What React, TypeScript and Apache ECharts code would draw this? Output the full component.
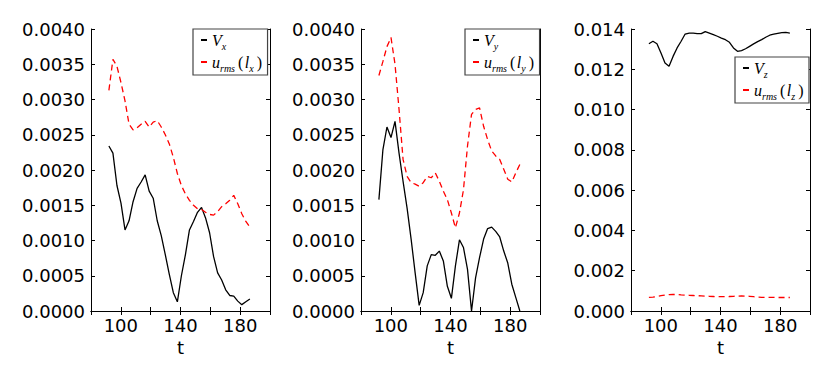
import React, { useEffect, useRef } from "react";
import * as echarts from "echarts";

const t = [92.0, 94.7, 97.4, 100.1, 102.8, 105.5, 108.2, 110.9, 113.6, 116.3, 119.0, 121.7, 124.4, 127.1, 129.8, 132.5, 135.2, 137.9, 140.6, 143.3, 146.0, 148.7, 151.4, 154.1, 156.8, 159.5, 162.2, 164.9, 167.6, 170.3, 173.0, 175.7, 178.4, 181.1, 183.8, 186.5];

const vx = [0.00234, 0.00224, 0.00178, 0.00153, 0.00115, 0.00128, 0.00155, 0.00174, 0.00183, 0.00193, 0.0017, 0.0016, 0.00128, 0.00107, 0.0008, 0.00052, 0.00026, 0.00013, 0.0005, 0.0008, 0.00115, 0.00127, 0.0014, 0.00147, 0.00132, 0.00111, 0.00077, 0.00054, 0.00044, 0.0003, 0.00022, 0.00021, 0.00014, 0.00009, 0.00013, 0.00017];
const urmsX = [0.00313, 0.00357, 0.00347, 0.00324, 0.00298, 0.00265, 0.00257, 0.0026, 0.00265, 0.00269, 0.00261, 0.00268, 0.0027, 0.00261, 0.0025, 0.00237, 0.00218, 0.00195, 0.00178, 0.00166, 0.00157, 0.0015, 0.00145, 0.00144, 0.0014, 0.00137, 0.00136, 0.00141, 0.00148, 0.00152, 0.00157, 0.00164, 0.00152, 0.00138, 0.00127, 0.00119];

const vy = [0.00158, 0.00229, 0.00261, 0.00246, 0.00269, 0.00224, 0.00184, 0.00146, 0.00102, 0.00054, 0.00008, 0.00026, 0.00064, 0.0008, 0.00079, 0.00085, 0.00071, 0.00035, 0.00018, 0.00064, 0.00101, 0.0009, 0.00059, 0.0, 0.00047, 0.00076, 0.00102, 0.00117, 0.00119, 0.00113, 0.00105, 0.00085, 0.00068, 0.00038, 0.00019, 0.0];
const urmsY = [0.00334, 0.00354, 0.00375, 0.00388, 0.0035, 0.00286, 0.00215, 0.00191, 0.00182, 0.0018, 0.00177, 0.00182, 0.00191, 0.00189, 0.00196, 0.00184, 0.0017, 0.00158, 0.00139, 0.00118, 0.00139, 0.00172, 0.00234, 0.00279, 0.00286, 0.00288, 0.00262, 0.00243, 0.00227, 0.0022, 0.00215, 0.00201, 0.00187, 0.00183, 0.00196, 0.00208];

const vz = [0.01327, 0.01339, 0.01327, 0.01281, 0.01231, 0.01215, 0.01264, 0.01306, 0.01339, 0.01375, 0.0138, 0.0138, 0.01377, 0.01377, 0.01387, 0.0138, 0.01372, 0.01364, 0.01355, 0.01347, 0.01334, 0.01306, 0.01289, 0.01293, 0.01302, 0.01314, 0.01326, 0.01337, 0.01347, 0.01359, 0.01369, 0.01374, 0.01378, 0.01382, 0.01383, 0.0138];
const urmsZ = [0.00068, 0.00069, 0.00072, 0.00076, 0.00079, 0.00081, 0.00082, 0.00082, 0.0008, 0.00079, 0.00078, 0.00077, 0.00076, 0.00075, 0.00074, 0.00073, 0.00072, 0.00071, 0.00071, 0.00071, 0.00072, 0.00073, 0.00074, 0.00075, 0.00074, 0.00073, 0.00071, 0.00069, 0.00068, 0.00068, 0.00068, 0.00068, 0.00067, 0.00067, 0.00067, 0.00067];

const xTickLabels = [100, 140, 180];
const panels = [
  { black: vx, red: urmsX, comp: "x", yMax: 0.004, yStep: 0.0005, dec: 4 },
  { black: vy, red: urmsY, comp: "y", yMax: 0.004, yStep: 0.0005, dec: 4 },
  { black: vz, red: urmsZ, comp: "z", yMax: 0.014, yStep: 0.002, dec: 3 },
];

const gridLefts = [91, 361, 631];
const legendPos = [
  { left: 193, top: 29 },
  { left: 465, top: 29 },
  { left: 735, top: 57 },
];

const FONT = "DejaVu Sans";
const MATH = "Liberation Serif";

export default function App() {
  const ref = useRef<HTMLDivElement>(null);
  useEffect(() => {
    if (!ref.current) return;
    const chart = echarts.init(ref.current, undefined, { renderer: "svg" });
    const grids: any[] = [];
    const xAxes: any[] = [];
    const yAxes: any[] = [];
    const series: any[] = [];
    const legends: any[] = [];
    const labelMap: Record<string, string> = {};
    panels.forEach((p, i) => {
      grids.push({ left: gridLefts[i], top: 29, width: 179, height: 282 });
      const tick = { show: true, inside: true, length: 4, lineStyle: { color: "#000", width: 1 } };
      const line = { show: true, lineStyle: { color: "#000", width: 1 } };
      xAxes.push({
        type: "value", gridIndex: i, position: "bottom", min: 80, max: 200, interval: 20,
        axisLine: line, axisTick: tick, splitLine: { show: false },
        axisLabel: {
          color: "#000", fontSize: 18, fontFamily: FONT, margin: 5,
          formatter: (v: number) => (xTickLabels.includes(v) ? String(v) : ""),
        },
        name: "t", nameLocation: "middle", nameGap: 26,
        nameTextStyle: { color: "#000", fontSize: 18, fontFamily: FONT },
      });
      xAxes.push({
        type: "value", gridIndex: i, position: "top", min: 80, max: 200, interval: 20,
        axisLine: line, axisTick: tick, splitLine: { show: false }, axisLabel: { show: false },
      });
      yAxes.push({
        type: "value", gridIndex: i, position: "left", min: 0, max: p.yMax, interval: p.yStep,
        axisLine: line, axisTick: tick, splitLine: { show: false },
        axisLabel: {
          color: "#000", fontSize: 18, fontFamily: FONT, margin: 6,
          formatter: (v: number) => v.toFixed(p.dec),
        },
      });
      yAxes.push({
        type: "value", gridIndex: i, position: "right", min: 0, max: p.yMax, interval: p.yStep,
        axisLine: line, axisTick: tick, splitLine: { show: false }, axisLabel: { show: false },
      });
      const bName = "V" + p.comp;
      const rName = "urms" + p.comp;
      labelMap[bName] = `{i|V}{s|${p.comp}}`;
      labelMap[rName] = `{i|u}{s|rms}{p|(}{i|l}{s|${p.comp}}{p|)}`;
      series.push({
        name: bName, type: "line", xAxisIndex: 2 * i, yAxisIndex: 2 * i,
        data: t.map((tv, k) => [tv, p.black[k]]), showSymbol: false,
        lineStyle: { color: "#000", width: 1.3 }, itemStyle: { color: "#000" },
      });
      series.push({
        name: rName, type: "line", xAxisIndex: 2 * i, yAxisIndex: 2 * i,
        data: t.map((tv, k) => [tv, p.red[k]]), showSymbol: false,
        lineStyle: { color: "#ff0000", width: 1.3, type: [6, 4] }, itemStyle: { color: "#ff0000" },
      });
      legends.push({
        ...legendPos[i],
        orient: "vertical",
        data: [{ name: bName, icon: "rect" }, { name: rName, icon: "rect" }],
        itemWidth: 6, itemHeight: 2, itemGap: 3,
        padding: [3, 4, 2, 8],
        borderColor: "#444", borderWidth: 1.2, backgroundColor: "#fff", borderRadius: 0,
        selectedMode: false,
        formatter: (name: string) => labelMap[name],
        textStyle: {
          color: "#000",
          rich: {
            i: { fontFamily: MATH, fontStyle: "italic", fontSize: 16, lineHeight: 22, color: "#000" },
            s: { fontFamily: MATH, fontStyle: "italic", fontSize: 10, lineHeight: 13, verticalAlign: "bottom", color: "#000", padding: [0, 1, 0, 0] },
            p: { fontFamily: MATH, fontSize: 16, lineHeight: 22, color: "#000", padding: [0, 1.5, 0, 2] },
          },
        },
      });
    });
    chart.setOption({
      animation: false,
      backgroundColor: "#fff",
      grid: grids,
      xAxis: xAxes,
      yAxis: yAxes,
      series,
      legend: legends,
    });
    return () => chart.dispose();
  }, []);
  return <div ref={ref} style={{ position: "absolute", left: 0, top: 0, width: 830, height: 378 }} />;
}
